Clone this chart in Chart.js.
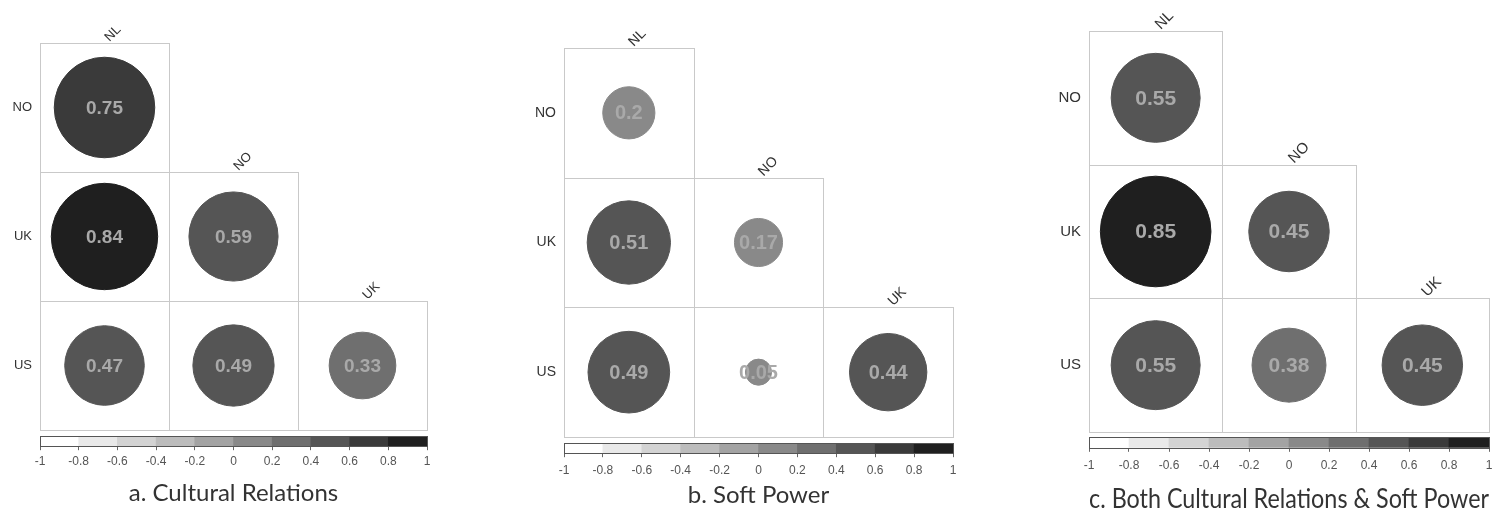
<!DOCTYPE html>
<html>
<head>
<meta charset="utf-8">
<title>Correlograms</title>
<script src="https://cdn.jsdelivr.net/npm/chart.js@4.4.0/dist/chart.umd.min.js"></script>
<style>
  html, body { margin: 0; padding: 0; background: #fff; }
  body { width: 1504px; height: 514px; position: relative; overflow: hidden; }
  canvas { position: absolute; }
</style>
</head>
<body>
<canvas id="matA" width="467" height="432" style="left:0;top:0"></canvas>
<canvas id="barA" width="467" height="76" style="left:0;top:434px"></canvas>
<canvas id="matB" width="469" height="439" style="left:524px;top:0"></canvas>
<canvas id="barB" width="469" height="71" style="left:524px;top:441px"></canvas>
<canvas id="matC" width="455" height="434" style="left:1049px;top:0"></canvas>
<canvas id="barC" width="440" height="82" style="left:1069px;top:435px"></canvas>

<script>
// ===== DADOS =====
const rowLabels = ["NO", "UK", "US"];
const colLabels = ["NL", "NO", "UK"];

// lower triangle, row by row (row i has i+1 cells)
const culturalRelations = [
  [0.75],
  [0.84, 0.59],
  [0.47, 0.49, 0.33]
];
const softPower = [
  [0.2],
  [0.51, 0.17],
  [0.49, 0.05, 0.44]
];
const bothCrSp = [
  [0.55],
  [0.85, 0.45],
  [0.55, 0.38, 0.45]
];

const colorbarTicks = [-1, -0.8, -0.6, -0.4, -0.2, 0, 0.2, 0.4, 0.6, 0.8, 1];
const panelTitles = [
  "a. Cultural Relations",
  "b. Soft Power",
  "c. Both Cultural Relations & Soft Power"
];

// ===== ESTILO =====
const grays = ["#ffffff", "#e9e9e9", "#d3d3d3", "#bcbcbc", "#a3a3a3",
               "#898989", "#6f6f6f", "#555555", "#3a3a3a", "#1f1f1f"];
const ARIAL = '"Liberation Sans", Arial, sans-serif';

function binColor(v) {
  const k = Math.ceil((v + 1) * 5) - 1;
  return grays[Math.min(9, Math.max(0, k))];
}

function cellSize(chart) {
  const xs = chart.scales.x;
  return Math.abs(xs.getPixelForValue(1) - xs.getPixelForValue(0));
}

function toPoints(matrix) {
  const pts = [];
  matrix.forEach((row, i) => row.forEach((v, j) => pts.push({ x: j, y: i, v: v })));
  return pts;
}

// ===== PLUGIN: grade, rótulos e números =====
const corrGrid = {
  id: "corrGrid",
  beforeDatasetsDraw(chart, args, opts) {
    const { ctx, scales: { x, y } } = chart;
    ctx.save();
    ctx.strokeStyle = "#c9c9c9";
    ctx.lineWidth = 1;
    rowLabels.forEach((r, i) => {
      for (let j = 0; j <= i; j++) {
        const x0 = Math.round(x.getPixelForValue(j - 0.5));
        const x1 = Math.round(x.getPixelForValue(j + 0.5));
        const y0 = Math.round(y.getPixelForValue(i - 0.5));
        const y1 = Math.round(y.getPixelForValue(i + 0.5));
        ctx.strokeRect(x0 + 0.5, y0 + 0.5, x1 - x0, y1 - y0);
      }
    });

    ctx.fillStyle = "#333";
    ctx.font = opts.labelSize + "px " + ARIAL;
    ctx.textAlign = "right";
    ctx.textBaseline = "middle";
    rowLabels.forEach((r, i) => {
      ctx.fillText(r, x.getPixelForValue(-0.5) - 8, y.getPixelForValue(i));
    });

    // column names, turned 45 degrees, sitting on the top cell of each column
    ctx.textAlign = "left";
    ctx.textBaseline = "alphabetic";
    colLabels.forEach((c, j) => {
      ctx.save();
      ctx.translate(x.getPixelForValue(j) + 5, y.getPixelForValue(j - 0.5) - 1);
      ctx.rotate(-Math.PI / 4);
      ctx.fillText(c, 0, 0);
      ctx.restore();
    });
    ctx.restore();
  },
  afterDatasetsDraw(chart, args, opts) {
    const { ctx } = chart;
    const pts = chart.data.datasets[0].data;
    ctx.save();
    ctx.font = "bold " + opts.numberSize + "px " + ARIAL;
    ctx.fillStyle = "#a9a9a9";
    ctx.textAlign = "center";
    ctx.textBaseline = "middle";
    chart.getDatasetMeta(0).data.forEach((el, k) => {
      ctx.fillText(String(pts[k].v), el.x, el.y + 1);
    });
    ctx.restore();
  }
};

// ===== PLUGIN: moldura da barra de cores =====
const barFrame = {
  id: "barFrame",
  afterDatasetsDraw(chart) {
    const { ctx, chartArea: a } = chart;
    ctx.save();
    ctx.strokeStyle = "#555";
    ctx.lineWidth = 1;
    ctx.strokeRect(Math.round(a.left) + 0.5, Math.round(a.top) + 0.5,
                   Math.round(a.right - a.left), Math.round(a.bottom - a.top));
    ctx.restore();
  }
};

function matrixChart(id, values, pad, labelSize, numberSize) {
  return new Chart(document.getElementById(id), {
    type: "scatter",
    data: {
      datasets: [{
        data: toPoints(values),
        pointRadius: (c) => c.raw ? 0.45 * cellSize(c.chart) * Math.sqrt(Math.abs(c.raw.v)) : 0,
        pointBackgroundColor: (c) => c.raw ? binColor(c.raw.v) : "#000",
        pointBorderColor: (c) => c.raw ? binColor(c.raw.v) : "#000",
        pointBorderWidth: 1
      }]
    },
    options: {
      responsive: false,
      animation: false,
      events: [],
      layout: { padding: pad },
      scales: {
        x: { type: "linear", min: -0.5, max: 2.5, display: false },
        y: { type: "linear", min: -0.5, max: 2.5, reverse: true, display: false }
      },
      plugins: {
        legend: { display: false },
        tooltip: { enabled: false },
        corrGrid: { labelSize: labelSize, numberSize: numberSize }
      }
    },
    plugins: [corrGrid]
  });
}

const binCenters = colorbarTicks.slice(0, -1).map((t, k) => (t + colorbarTicks[k + 1]) / 2);

function colorbarChart(id, title, pad, tickPad, axisH, titleSize, titlePadTop) {
  return new Chart(document.getElementById(id), {
    type: "bar",
    data: {
      datasets: [{
        data: binCenters.map((c) => ({ x: c, y: 1 })),
        backgroundColor: grays,
        borderWidth: 0,
        barPercentage: 1,
        categoryPercentage: 1
      }]
    },
    options: {
      responsive: false,
      animation: false,
      events: [],
      layout: { padding: pad },
      scales: {
        x: {
          type: "linear", min: -1, max: 1, offset: false,
          afterBuildTicks: (s) => { s.ticks = colorbarTicks.map((v) => ({ value: v })); },
          afterFit: (s) => { s.height = axisH; },
          grid: { offset: false, drawOnChartArea: false, drawTicks: true, tickLength: 4, color: "#666" },
          border: { display: false },
          ticks: {
            padding: tickPad, color: "#555", font: { family: ARIAL, size: 12 },
            maxRotation: 0, autoSkip: false,
            callback: (v) => String(v)
          }
        },
        y: { min: 0, max: 1, display: false }
      },
      plugins: {
        legend: { display: false },
        tooltip: { enabled: false },
        title: {
          display: true, position: "bottom", text: title, color: "#333",
          font: { family: "Lato", size: titleSize, weight: "normal" },
          padding: { top: titlePadTop, bottom: 2 }
        }
      }
    },
    plugins: [barFrame]
  });
}

// ===== PAINÉIS =====
matrixChart("matA", culturalRelations, { left: 40, top: 43, right: 40, bottom: 2 }, 13, 19);
colorbarChart("barA", panelTitles[0], { left: 40, right: 40, top: 2, bottom: 0 }, 4, 22, 24, 11);

matrixChart("matB", softPower, { left: 40, top: 48, right: 40, bottom: 2 }, 14, 20);
colorbarChart("barB", panelTitles[1], { left: 40, right: 40, top: 2, bottom: 0 }, 6, 24, 24, 4);

matrixChart("matC", bothCrSp, { left: 40, top: 31, right: 15, bottom: 2 }, 15, 21);
colorbarChart("barC", panelTitles[2], { left: 20, right: 20, top: 2, bottom: 0 }, 7, 26, 26, 10);
</script>
</body>
</html>
